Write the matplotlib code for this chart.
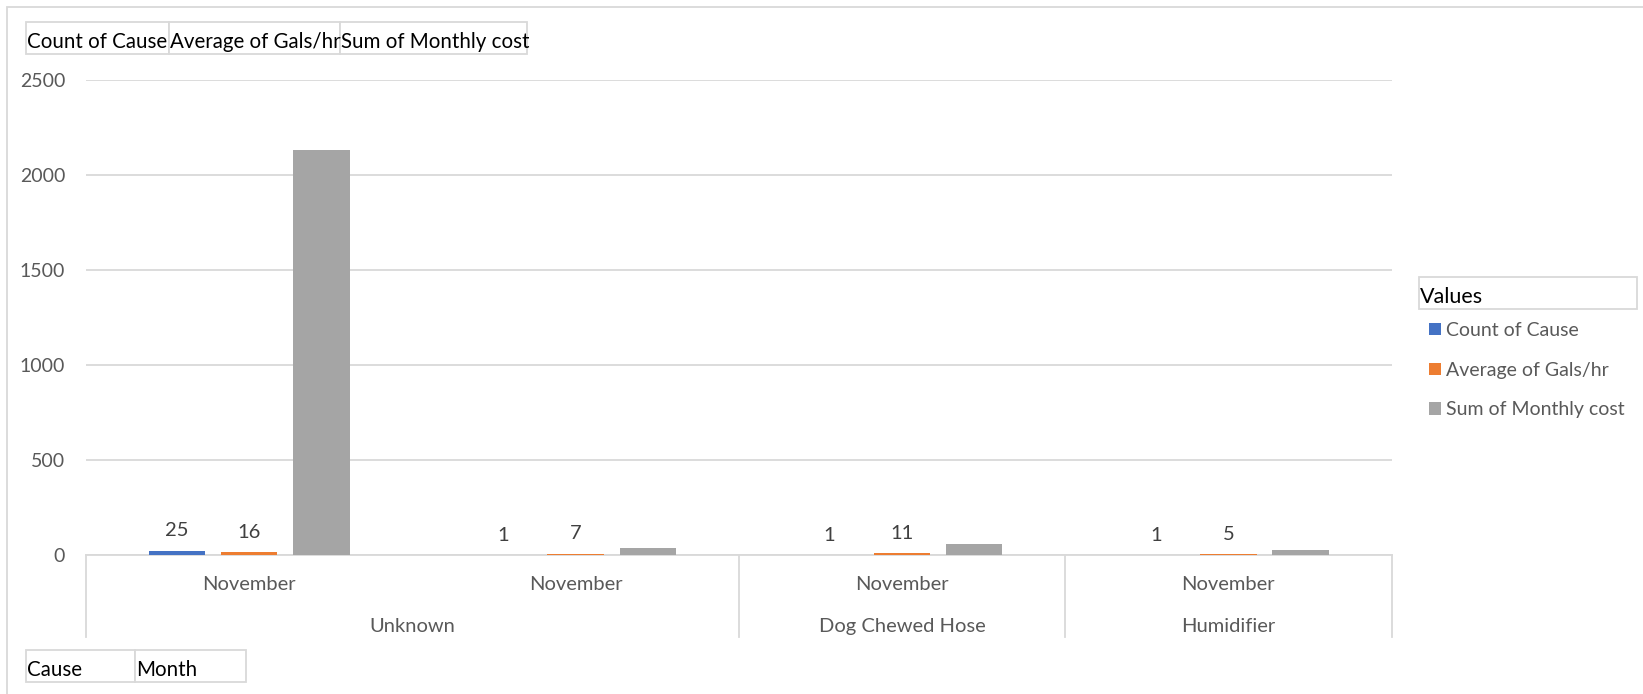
import matplotlib.pyplot as plt
from matplotlib.patches import Rectangle
from matplotlib.lines import Line2D

plt.rcParams['font.family'] = ['Lato', 'DejaVu Sans']

# data
months = ['November', 'November', 'November', 'November']
causes = ['Unknown', 'Dog Chewed Hose', 'Humidifier']
cause_span = [(0, 1), (2, 2), (3, 3)]  # which month columns each cause covers
series_names = ['Count of Cause', 'Average of Gals/hr', 'Sum of Monthly cost']
count_of_cause = [25, 1, 1, 1]
avg_gals_hr = [16, 7, 11, 5]
sum_monthly_cost = [2130, 36, 57, 26]
colors = ['#4472C4', '#ED7D31', '#A5A5A5']
show_labels = [True, True, False]

W, H = 1643, 694
fig = plt.figure(figsize=(W / 100, H / 100), dpi=100)


def fx(px):
    return px / W


def fy(py):
    return 1 - py / H


ax = fig.add_axes([fx(86), fy(555.3), fx(1391.5 - 86), (555.3 - 79.6) / H])

grey_txt = '#595959'
grid_c = '#D9D9D9'

series = [count_of_cause, avg_gals_hr, sum_monthly_cost]
step = 0.2215
width = 0.173
xs = list(range(len(months)))
for i, vals in enumerate(series):
    pos = [x + (i - 1) * step for x in xs]
    bars = ax.bar(pos, vals, width=width, color=colors[i], label=series_names[i], zorder=3)
    if show_labels[i]:
        for b, v in zip(bars, vals):
            ax.annotate(str(v), (b.get_x() + b.get_width() / 2, b.get_height()),
                        xytext=(0, 10.5), textcoords='offset points',
                        ha='center', va='baseline', fontsize=14.5, color='#404040')

ax.set_xlim(-0.5, len(months) - 0.5)
ax.set_ylim(0, 2500)
ax.set_yticks([0, 500, 1000, 1500, 2000, 2500])
ax.yaxis.grid(True, color=grid_c, lw=1.3, zorder=0)
ax.tick_params(axis='y', length=0, pad=15, labelsize=14, labelcolor=grey_txt)
ax.set_xticks([])
for s in ['top', 'right', 'left']:
    ax.spines[s].set_visible(False)
ax.spines['bottom'].set_color(grid_c)
ax.spines['bottom'].set_linewidth(1.3)

# two-level category axis
tr = ax.get_xaxis_transform()
for x, m in zip(xs, months):
    ax.text(x, -0.0605, m, transform=tr, ha='center', va='center', fontsize=14.5, color=grey_txt)
seps = [-0.5]
for c, (a, b) in zip(causes, cause_span):
    ax.text((a + b) / 2, -0.15, c, transform=tr, ha='center', va='center', fontsize=14.5, color=grey_txt)
    seps.append(b + 0.5)
for s in seps:
    ax.add_line(Line2D([s, s], [0, -0.172], transform=tr, color=grid_c, lw=1.3, clip_on=False))

# outer chart frame
fig.add_artist(Rectangle((fx(7), fy(H + 10)), fx(W + 10), (H + 10 - 7) / H,
                         transform=fig.transFigure, fill=False, ec=grid_c, lw=1.3))


def field_button(x0, x1, y0, y1, text, size=14.8):
    fig.add_artist(Rectangle((fx(x0), fy(y1)), fx(x1 - x0), (y1 - y0) / H,
                             transform=fig.transFigure, fill=True, fc='white', ec=grid_c, lw=1.3))
    fig.text(fx(x0 + 1), fy((y0 + y1) / 2 + 4), text, ha='left', va='center', fontsize=size, color='black')


field_button(26, 169, 22, 54, 'Count of Cause')
field_button(169, 340, 22, 54, 'Average of Gals/hr')
field_button(340, 527, 22, 54, 'Sum of Monthly cost')
field_button(26, 135, 650, 682, 'Cause')
field_button(135, 246, 650, 682, 'Month')
field_button(1419, 1637, 277, 309, 'Values', size=15.5)

leg = fig.legend(loc='upper left', bbox_to_anchor=(fx(1429), fy(322)), frameon=False,
                 fontsize=14, handlelength=0.6, handleheight=0.6, handletextpad=0.26,
                 labelspacing=1.17, borderaxespad=0, borderpad=0)
for t in leg.get_texts():
    t.set_color(grey_txt)

fig.savefig('out.png', dpi=100)
